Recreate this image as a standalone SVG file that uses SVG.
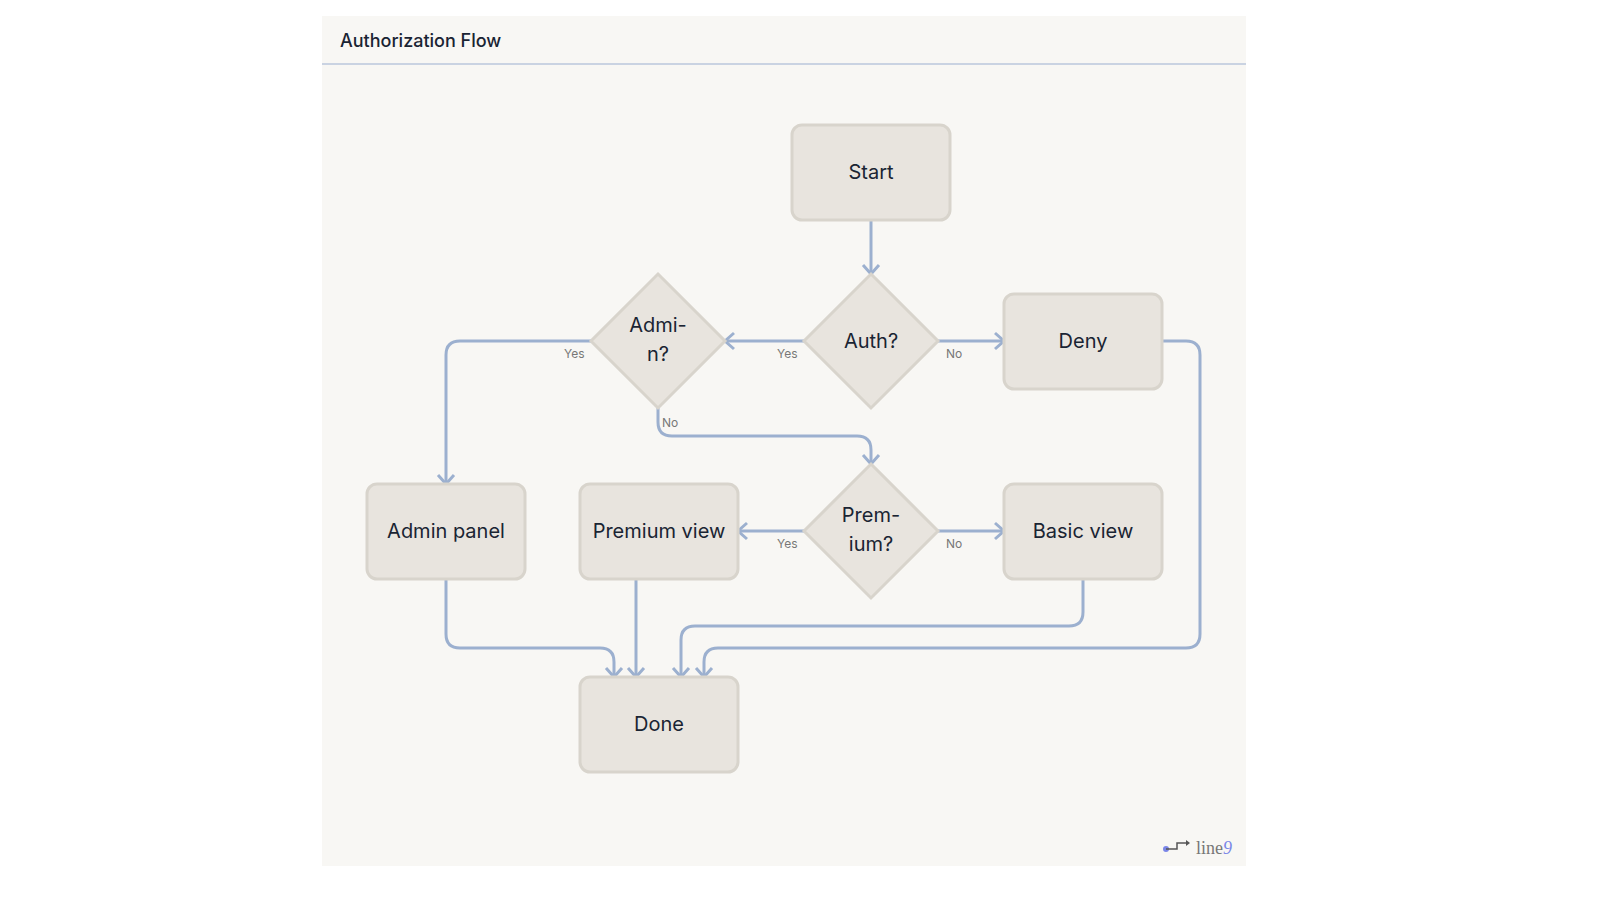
<svg xmlns="http://www.w3.org/2000/svg" width="1600" height="900" viewBox="0 0 1600 900">
<style>
.n{fill:#e8e4de;stroke:#d8d4cc;stroke-width:3}
.t{font-family:Inter,"Noto Sans",sans-serif;font-size:20px;fill:#1a2433;text-anchor:middle}
.l{font-family:Inter,"Noto Sans",sans-serif;font-size:12px;fill:#777}
.e path{fill:none;stroke:#9cb0cf;stroke-width:3;marker-end:url(#a)}
</style>
<defs><marker id="a" markerWidth="20" markerHeight="20" refX="12" refY="10" orient="auto" markerUnits="userSpaceOnUse"><path d="M3,2 L12,10 L3,18" fill="none" stroke="#9cb0cf" stroke-width="3"/></marker></defs>
<rect width="1600" height="900" fill="#fff"/>
<rect x="322" y="16" width="924" height="850" fill="#f8f7f4"/>
<line x1="322" y1="64" x2="1246" y2="64" stroke="#9cb0cf" stroke-width="1.2"/>
<text x="340" y="47" font-family="Inter,'Noto Sans',sans-serif" font-size="18" font-weight="500" fill="#1a2433">Authorization Flow</text>
<g class="e" id="connectors">
<path d="M871,220 V274"/>
<path d="M804,341 H725"/>
<path d="M938,341 H1004"/>
<path d="M591,341 H460 Q446,341 446,355 V484"/>
<path d="M658,408 V422 Q658,436 672,436 H857 Q871,436 871,450 V464"/>
<path d="M804,531 H738"/>
<path d="M938,531 H1004"/>
<path d="M446,579 V634 Q446,648 460,648 H600 Q614,648 614,662 V677"/>
<path d="M636,579 V677"/>
<path d="M1083,579 V612 Q1083,626 1069,626 H695 Q681,626 681,640 V677"/>
<path d="M1162,341 H1186 Q1200,341 1200,355 V634 Q1200,648 1186,648 H718 Q704,648 704,662 V677"/>
</g>
<g class="l">
<text x="564" y="358">Yes</text><text x="777" y="358">Yes</text><text x="946" y="358">No</text>
<text x="662" y="427">No</text><text x="777" y="548">Yes</text><text x="946" y="548">No</text>
</g>
<g id="start"><rect class="n" x="792" y="125" width="158" height="95" rx="10"/><text class="t" x="871" y="179">Start</text></g>
<g id="auth"><polygon class="n" points="871,274 938,341 871,408 804,341"/><text class="t" x="871" y="348">Auth?</text></g>
<g id="admin"><polygon class="n" points="658,274 725,341 658,408 591,341"/><text class="t" x="658" y="332">Admi-</text><text class="t" x="658" y="361">n?</text></g>
<g id="deny"><rect class="n" x="1004" y="294" width="158" height="95" rx="10"/><text class="t" x="1083" y="348">Deny</text></g>
<g id="adminpanel"><rect class="n" x="367" y="484" width="158" height="95" rx="10"/><text class="t" x="446" y="538">Admin panel</text></g>
<g id="premiumview"><rect class="n" x="580" y="484" width="158" height="95" rx="10"/><text class="t" x="659" y="538">Premium view</text></g>
<g id="premium"><polygon class="n" points="871,464 938,531 871,598 804,531"/><text class="t" x="871" y="522">Prem-</text><text class="t" x="871" y="551">ium?</text></g>
<g id="basic"><rect class="n" x="1004" y="484" width="158" height="95" rx="10"/><text class="t" x="1083" y="538">Basic view</text></g>
<g id="done"><rect class="n" x="580" y="677" width="158" height="95" rx="10"/><text class="t" x="659" y="731">Done</text></g>
<g id="logo"><circle cx="1166" cy="849" r="3" fill="#7a86e8"/><path d="M1166,849 H1177 V843 H1188" fill="none" stroke="#555" stroke-width="1.5"/><path d="M1186,840 L1190,843 L1186,846" fill="#555"/><text x="1196" y="854" font-family="'Liberation Serif',serif" font-size="18" fill="#777">line<tspan fill="#7a86e8" font-style="italic">9</tspan></text></g>
</svg>
